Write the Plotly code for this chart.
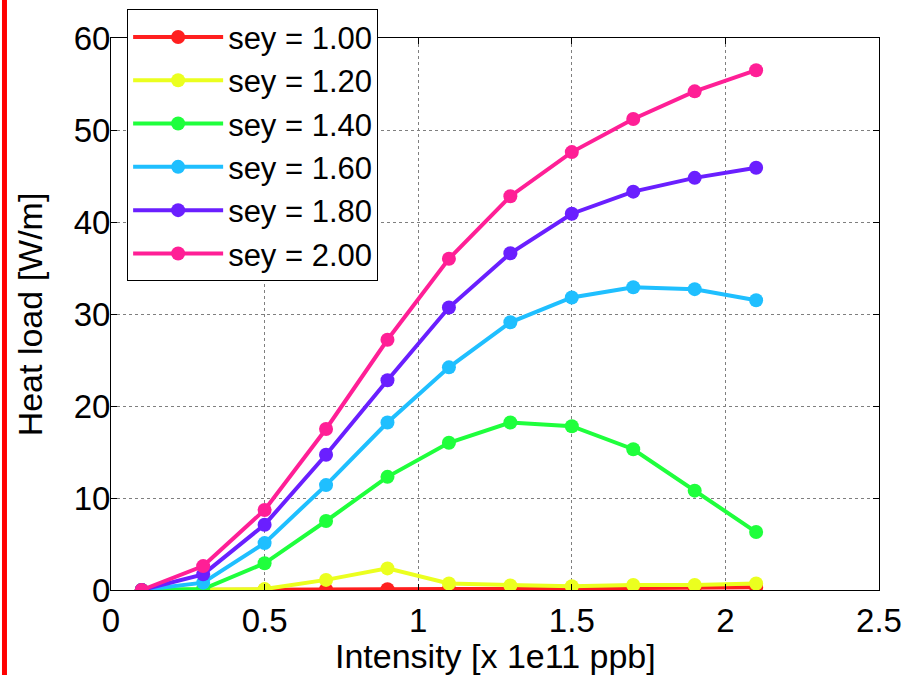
import plotly.graph_objects as go

intensity = [0.1, 0.3, 0.5, 0.7, 0.9, 1.1, 1.3, 1.5, 1.7, 1.9, 2.1]
sey_labels = ["sey = 1.00", "sey = 1.20", "sey = 1.40", "sey = 1.60", "sey = 1.80", "sey = 2.00"]
heat_sey_100 = [0.0, 0.0, 0.02, 0.05, 0.08, 0.1, 0.12, 0.15, 0.2, 0.25, 0.3]
heat_sey_120 = [0.0, 0.05, 0.1, 1.1, 2.35, 0.7, 0.5, 0.4, 0.55, 0.55, 0.7]
heat_sey_140 = [0.0, 0.1, 2.9, 7.5, 12.3, 16.0, 18.2, 17.8, 15.3, 10.8, 6.3]
heat_sey_160 = [0.0, 0.8, 5.1, 11.4, 18.2, 24.2, 29.1, 31.8, 32.9, 32.7, 31.5]
heat_sey_180 = [0.0, 1.7, 7.1, 14.7, 22.8, 30.7, 36.6, 40.9, 43.3, 44.8, 45.9]
heat_sey_200 = [0.0, 2.6, 8.7, 17.5, 27.2, 36.0, 42.8, 47.6, 51.2, 54.2, 56.5]
colors = ["#FF1F1F", "#EBFF1F", "#1FFF3C", "#1FBFFF", "#6A1FFF", "#FF1F96"]
x_title = "Intensity [x 1e11 ppb]"
y_title = "Heat load [W/m]"

series = [heat_sey_100, heat_sey_120, heat_sey_140, heat_sey_160, heat_sey_180, heat_sey_200]

fig = go.Figure()
for name, vals, col in zip(sey_labels, series, colors):
    fig.add_trace(go.Scatter(
        x=intensity, y=vals, name=name, mode="lines+markers",
        line=dict(color=col, width=4),
        marker=dict(color=col, size=14),
    ))

font_family = "Liberation Sans, Arial, sans-serif"
fs = 33
fig.update_layout(
    width=918, height=675,
    margin=dict(l=111, r=39, t=38, b=85, autoexpand=False),
    paper_bgcolor="white", plot_bgcolor="white",
    font=dict(family=font_family, size=fs, color="black"),
    showlegend=True,
    legend=dict(
        x=0.021, y=1.052, xanchor="left", yanchor="top",
        bgcolor="white", bordercolor="black", borderwidth=1,
        font=dict(size=31), tracegroupgap=0, itemwidth=90,
    ),
    xaxis=dict(
        range=[0, 2.5], dtick=0.5, tick0=0, automargin=False,
        showline=True, linecolor="black", linewidth=1, mirror="ticks",
        ticks="inside", ticklen=6, tickcolor="black",
        showgrid=True, gridcolor="#7f7f7f", griddash="dot", gridwidth=1,
        zeroline=False, ticklabelstandoff=1,
        tickfont=dict(size=fs),
    ),
    yaxis=dict(
        range=[0, 60], dtick=10, tick0=0, automargin=False,
        showline=True, linecolor="black", linewidth=1, mirror="ticks",
        ticks="inside", ticklen=6, tickcolor="black",
        showgrid=True, gridcolor="#7f7f7f", griddash="dot", gridwidth=1,
        zeroline=False, ticklabelstandoff=-7,
        tickfont=dict(size=fs),
    ),
    annotations=[
        dict(text=x_title, xref="paper", yref="paper", x=0.5, y=-0.12,
             xanchor="center", yanchor="middle", showarrow=False,
             font=dict(size=34)),
        dict(text=y_title, xref="paper", yref="paper", x=-0.105, y=0.5,
             xanchor="center", yanchor="middle", showarrow=False, textangle=-90,
             font=dict(size=34)),
    ],
    shapes=[dict(type="line", xref="paper", yref="paper",
                 x0=-0.1387, x1=-0.1387, y0=-0.16, y1=1.08,
                 line=dict(color="#FF0000", width=5))],
)

fig.write_html("out.html", config={"displayModeBar": False},
               post_script="document.body.style.margin='0';")
